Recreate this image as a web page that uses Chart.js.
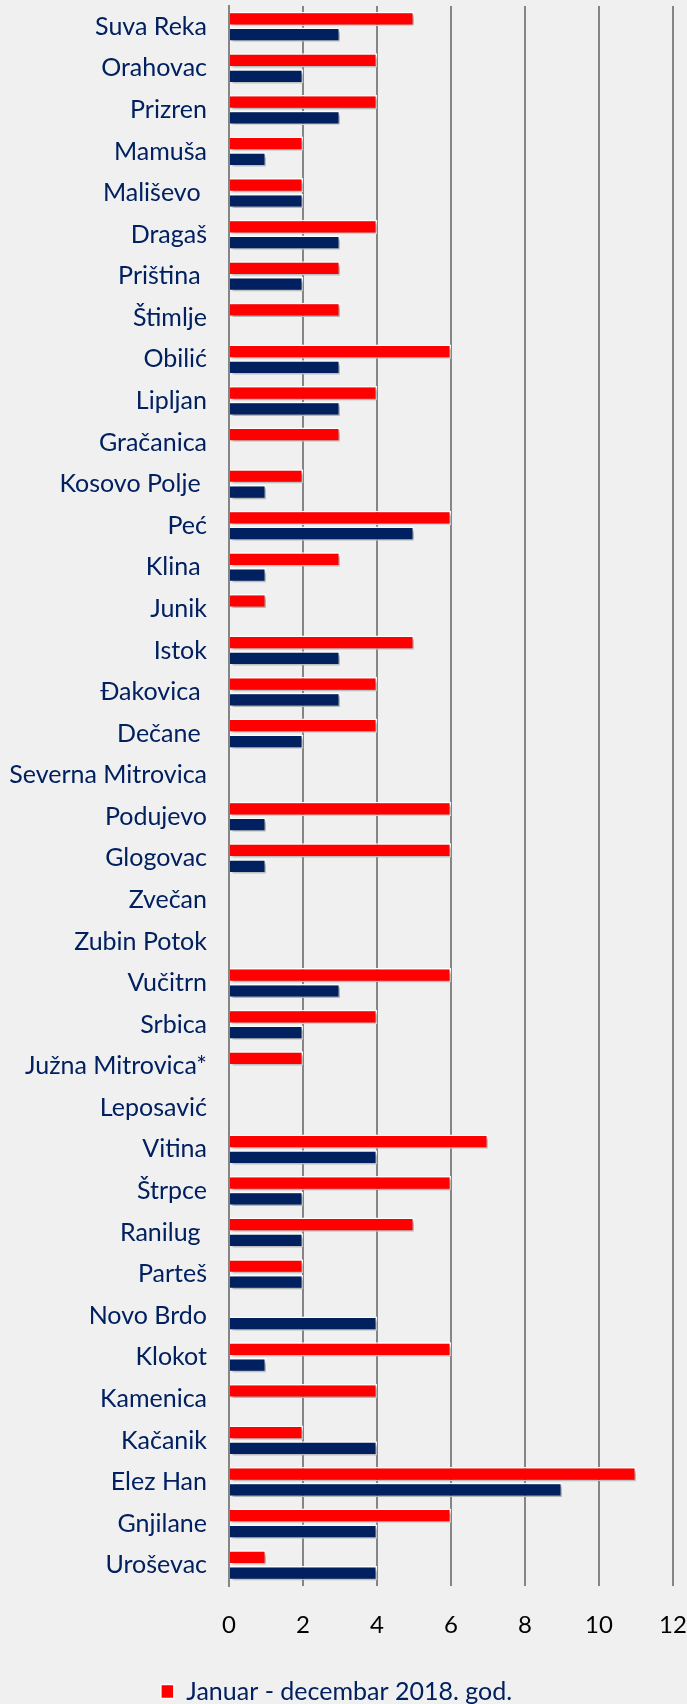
<!DOCTYPE html>
<html>
<head>
<meta charset="utf-8">
<script src="https://cdn.jsdelivr.net/npm/chart.js@4.4.1/dist/chart.umd.min.js"></script>
<style>
  html, body { margin: 0; padding: 0; background: #f0f0f0; }
  #wrap { width: 687px; height: 1704px; }
</style>
</head>
<body>
<div id="wrap"><canvas id="myChart" width="687" height="1704"></canvas></div>
<script>
// municipalities, top to bottom
const opstine = [
    'Suva Reka', 'Orahovac', 'Prizren', 'Mamuša', 'Mališevo ', 'Dragaš', 'Priština ', 'Štimlje',
    'Obilić', 'Lipljan', 'Gračanica', 'Kosovo Polje ', 'Peć', 'Klina ', 'Junik', 'Istok',
    'Đakovica ', 'Dečane ', 'Severna Mitrovica', 'Podujevo', 'Glogovac', 'Zvečan', 'Zubin Potok',
    'Vučitrn', 'Srbica', 'Južna Mitrovica*', 'Leposavić', 'Vitina', 'Štrpce', 'Ranilug ', 'Parteš',
    'Novo Brdo', 'Klokot', 'Kamenica', 'Kačanik', 'Elez Han', 'Gnjilane', 'Uroševac'
];

// Januar - decembar 2018 (red)
const god2018 = [5, 4, 4, 2, 2, 4, 3, 3, 6, 4, 3, 2, 6, 3, 1, 5, 4, 4, 0, 6, 6, 0, 0,
    6, 4, 2, 0, 7, 6, 5, 2, 0, 6, 4, 2, 11, 6, 1];

// second series (navy), legend entry not visible in the picture
const god2017 = [3, 2, 3, 1, 2, 3, 2, 0, 3, 3, 0, 1, 5, 1, 0, 3, 3, 2, 0, 1, 1, 0, 0,
    3, 2, 0, 0, 4, 2, 2, 2, 4, 1, 0, 4, 9, 4, 4];

const xTicks = [0, 2, 4, 6, 8, 10, 12];

const navy = '#002060';
const fontName = 'Lato, "Open Sans", sans-serif';

// excel style drop shadow under the bars
const shadowPlugin = {
    id: 'barShadow',
    beforeDatasetsDraw(chart) {
        const ctx = chart.ctx;
        ctx.save();
        ctx.shadowColor = 'rgba(0,0,0,0.35)';
        ctx.shadowOffsetX = 2;
        ctx.shadowOffsetY = 2;
        ctx.shadowBlur = 3;
    },
    afterDatasetsDraw(chart) {
        chart.ctx.restore();
    }
};

const config = {
    type: 'bar',
    data: {
        labels: opstine,
        datasets: [{
            label: 'Januar - decembar 2018. god.',
            data: god2018,
            backgroundColor: '#ff0000',
            borderColor: '#ffffff',
            borderWidth: 1.5,
            categoryPercentage: 0.76,
            barPercentage: 0.9
        }, {
            label: 'Januar - decembar 2017. god.',
            data: god2017,
            backgroundColor: navy,
            borderColor: '#ffffff',
            borderWidth: 1.5,
            categoryPercentage: 0.76,
            barPercentage: 0.9
        }]
    },
    options: {
        indexAxis: 'y',
        responsive: false,
        animation: false,
        layout: { padding: { top: 6, right: 14, left: 0, bottom: -10 } },
        scales: {
            x: {
                min: 0,
                max: 12,
                afterBuildTicks(scale) {
                    scale.ticks = xTicks.map(v => ({ value: v }));
                },
                afterFit(scale) {
                    scale.height = 85;
                    scale.paddingLeft = 0;
                    scale.paddingRight = 0;
                },
                grid: { color: '#858585', lineWidth: 2, drawTicks: false },
                border: { display: false },
                ticks: {
                    color: '#000000',
                    padding: 25,
                    font: { family: fontName, size: 24 }
                }
            },
            y: {
                afterFit(scale) {
                    scale.width = 229;
                    scale.paddingTop = 0;
                    scale.paddingBottom = 0;
                },
                grid: { display: false, drawTicks: false },
                border: { color: '#858585', width: 2 },
                ticks: {
                    color: navy,
                    padding: 22,
                    autoSkip: false,
                    font: { family: fontName, size: 25 }
                }
            }
        },
        plugins: {
            legend: {
                position: 'bottom',
                labels: {
                    color: navy,
                    boxWidth: 13,
                    boxHeight: 14,
                    padding: 8,
                    font: { family: fontName, size: 25 },
                    filter: item => item.datasetIndex === 0
                }
            },
            tooltip: { enabled: false }
        }
    },
    plugins: [shadowPlugin]
};

const ctx = document.getElementById('myChart').getContext('2d');
const myChart = new Chart(ctx, config);
</script>
</body>
</html>
